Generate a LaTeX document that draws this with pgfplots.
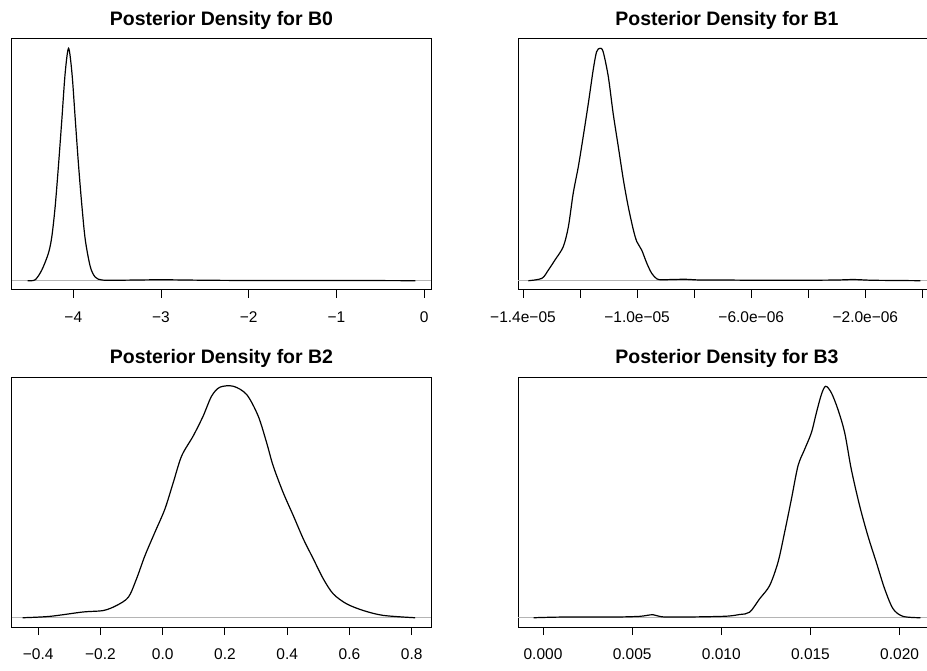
\documentclass[border=0pt]{standalone}
\usepackage{pgfplots}
\pgfplotsset{compat=1.18}
\usepackage{fontspec}
\setmainfont{Liberation Sans}
\pgfplotsset{
  dens/.style={
    scale only axis, width=419pt, height=251pt,
    ymin=-0.04, ymax=1.04, ytick=\empty,
    axis line style={line width=1pt},
    xtick pos=lower,
    xtick align=outside, major tick length=8pt,
    xtick style={line width=0.9pt, black},
    xticklabel style={font=\fontsize{15.5}{17}\selectfont, anchor=center, yshift=-19pt},
    every axis title/.style={at={(0.5,1)}, anchor=center, yshift=18.5pt, font=\fontsize{19.5}{22}\selectfont\bfseries},
    clip=true,
  },
  curve/.style={black, line width=1.2pt, smooth, no markers},
  base/.style={color={rgb,255:red,180;green,180;blue,180}, line width=0.9pt, no markers},
}
\begin{document}
\begin{tikzpicture}[x=1pt,y=1pt]
\path[use as bounding box] (0,0) rectangle (927,670);
% B0
\begin{axis}[dens, at={(12pt,380pt)}, anchor=south west,
  xmin=-4.699, xmax=0.079, xtick={-4,-3,-2,-1,0},
  xticklabels={−4,−3,−2,−1,0},
  title={Posterior Density for B0}]
\addplot[base] coordinates {(-4.699,0) (0.079,0)};
\addplot[curve] coordinates {
(-4.52,0) (-4.435,0.004) (-4.359,0.046) (-4.284,0.118) (-4.245,0.189) (-4.207,0.318)
(-4.170,0.491) (-4.131,0.691) (-4.093,0.892) (-4.054,1.0) (-4.015,0.892)
(-3.977,0.691) (-3.939,0.491) (-3.901,0.318) (-3.863,0.175) (-3.806,0.060)
(-3.749,0.015) (-3.672,0.003) (-3.5,0.002) (-3.0,0.004) (-2.5,0.002)
(-2.0,0.001) (-1.0,0.001) (-0.1,0.0)};
\end{axis}
% B1
\begin{axis}[dens, at={(518pt,380pt)}, anchor=south west, width=418pt,
  xmin=-14.175, xmax=0.476, xtick={-14,-12,...,0},
  xticklabels={−1.4e−05,,−1.0e−05,,−6.0e−06,,−2.0e−06,},
  title={Posterior Density for B1}]
\addplot[base] coordinates {(-14.175,0) (0.476,0)};
\addplot[curve] coordinates {
(-13.81,0) (-13.34,0.010) (-13.11,0.046) (-12.88,0.089) (-12.59,0.146)
(-12.41,0.232) (-12.24,0.376) (-12.06,0.491) (-11.89,0.620) (-11.71,0.763)
(-11.54,0.907) (-11.42,0.985) (-11.30,1.0) (-11.19,0.985) (-11.01,0.878)
(-10.84,0.720) (-10.66,0.577) (-10.48,0.433) (-10.31,0.318) (-10.13,0.218)
(-10.01,0.168) (-9.84,0.132) (-9.66,0.075) (-9.49,0.032) (-9.31,0.008)
(-9.14,0.004) (-8.8,0.005) (-8.3,0.006) (-7.8,0.003) (-7.0,0.003) (-6.0,0.002)
(-5.0,0.002) (-4.0,0.002) (-3.0,0.003) (-2.4,0.005) (-1.8,0.002) (-1.0,0.001) (-0.07,0.0)};
\end{axis}
% B2
\begin{axis}[dens, at={(12pt,43pt)}, anchor=south west, height=250pt,
  xmin=-0.484, xmax=0.862, xtick={-0.4,-0.2,0,0.2,0.4,0.6,0.8},
  xticklabels={−0.4,−0.2,0.0,0.2,0.4,0.6,0.8},
  title={Posterior Density for B2}]
\addplot[base] coordinates {(-0.484,0) (0.862,0)};
\addplot[curve] coordinates {
(-0.45,0) (-0.362,0.006) (-0.255,0.025) (-0.191,0.031) (-0.148,0.053)
(-0.110,0.089) (-0.084,0.168) (-0.057,0.268) (-0.025,0.369) (0.007,0.469)
(0.034,0.584) (0.061,0.699) (0.098,0.785) (0.130,0.871) (0.157,0.957)
(0.184,0.996) (0.227,1.0) (0.270,0.964) (0.307,0.871) (0.334,0.756)
(0.355,0.656) (0.387,0.541) (0.420,0.440) (0.452,0.340) (0.484,0.254)
(0.516,0.168) (0.548,0.103) (0.591,0.060) (0.645,0.031) (0.709,0.010) (0.811,0)};
\end{axis}
% B3
\begin{axis}[dens, at={(518pt,43pt)}, anchor=south west, width=418pt, height=250pt,
  xmin=-1.402, xmax=22.04, xtick={0,5,10,15,20},
  xticklabels={0.000,0.005,0.010,0.015,0.020},
  title={Posterior Density for B3}]
\addplot[base] coordinates {(-1.402,0) (22.04,0)};
\addplot[curve] coordinates {
(-0.53,0) (1.12,0.003) (3.93,0.003) (5.42,0.006) (6.17,0.013) (6.92,0.003)
(10.09,0.006) (11.03,0.014) (11.59,0.024) (12.15,0.082) (12.71,0.139)
(13.18,0.240) (13.55,0.369) (13.93,0.512) (14.30,0.656) (14.67,0.727)
(15.05,0.799) (15.33,0.885) (15.61,0.964) (15.85,1.0) (16.17,0.972)
(16.54,0.900) (16.92,0.799) (17.29,0.641) (17.76,0.483) (18.22,0.354)
(18.69,0.240) (19.16,0.125) (19.63,0.039) (20.19,0.006) (21.17,0)};
\end{axis}
\end{tikzpicture}
\end{document}
